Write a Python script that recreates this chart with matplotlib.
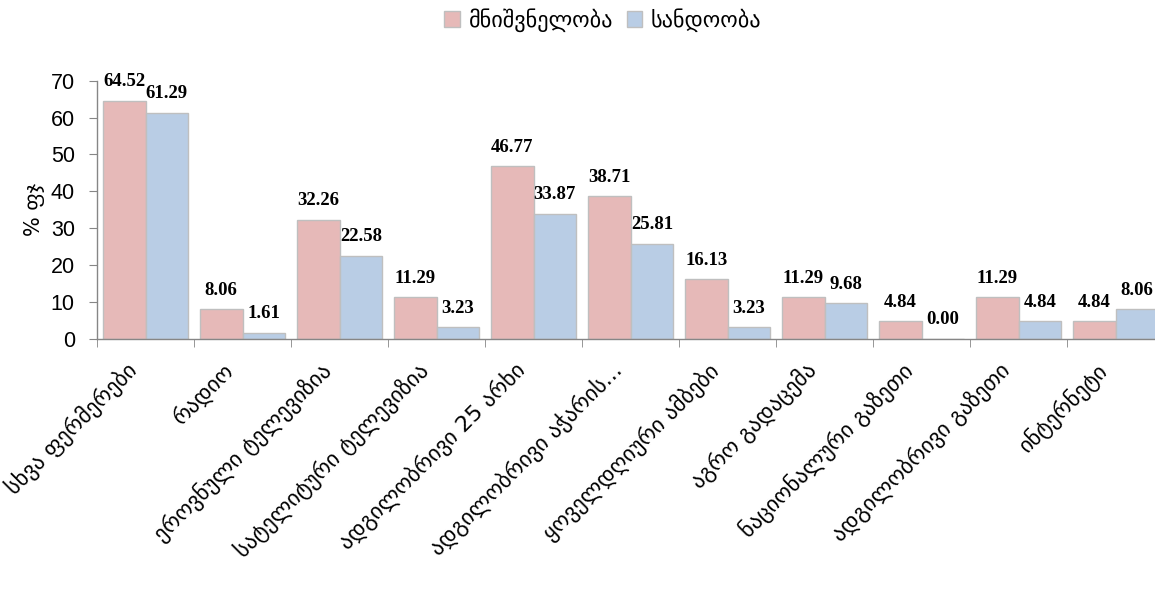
import matplotlib
matplotlib.use("Agg")
import matplotlib.pyplot as plt
import matplotlib.transforms as mtransforms
import numpy as np
from matplotlib.patches import Patch

categories = [
    "სხვა ფერმერები",
    "რადიო",
    "ეროვნული ტელევიზია",
    "სატელიტური ტელევიზია",
    "ადგილობრივი 25 არხი",
    "ადგილობრივი აჭარის...",
    "ყოველდღიური ამბები",
    "აგრო გადაცემა",
    "ნაციონალური გაზეთი",
    "ადგილობრივი გაზეთი",
    "ინტერნეტი",
]
importance = [64.52, 8.06, 32.26, 11.29, 46.77, 38.71, 16.13, 11.29, 4.84, 11.29, 4.84]
reliability = [61.29, 1.61, 22.58, 3.23, 33.87, 25.81, 3.23, 9.68, 0.00, 4.84, 8.06]
series_names = ["მნიშვნელობა", "სანდოობა"]
ylabel = "% ფჯ"
yticks = [0, 10, 20, 30, 40, 50, 60, 70]

col_imp = "#E6B9B8"
col_rel = "#B9CDE5"
edge = "#BFBFBF"
spine_col = "#868686"

fig = plt.figure(figsize=(11.55, 5.93), dpi=100)
ax = fig.add_axes([0.084, 0.4283, 1.0078 - 0.084, 0.864 - 0.4283])

x = np.arange(len(categories))
w = 0.44
b1 = ax.bar(x - w / 2, importance, w, color=col_imp, edgecolor=edge, linewidth=1)
b2 = ax.bar(x + w / 2, reliability, w, color=col_rel, edgecolor=edge, linewidth=1)

lab_font = dict(family="Liberation Serif", weight="bold", size=13.5, color="#000000")
for bars, vals in ((b1, importance), (b2, reliability)):
    for r, v in zip(bars, vals):
        ax.annotate(f"{v:.2f}", (r.get_x() + r.get_width() / 2, r.get_height()),
                    xytext=(0, 10.5), textcoords="offset points",
                    ha="center", va="baseline", **lab_font)

ax.set_xlim(-0.5, len(categories) - 0.5)
ax.set_ylim(0, 70)
ax.set_yticks(yticks)
ax.tick_params(axis="y", direction="out", length=6, color=spine_col,
               labelsize=15.5, pad=10)
for t in ax.get_yticklabels():
    t.set_family("Liberation Sans")

ax.set_xticks(x)
ax.set_xticklabels(categories, rotation=45, ha="right", va="top",
                   rotation_mode="anchor", fontsize=16, family="DejaVu Sans")
ax.tick_params(axis="x", which="major", length=0, pad=12)
offset = mtransforms.ScaledTranslation(-0.2, -0.03, fig.dpi_scale_trans)
for t in ax.get_xticklabels():
    t.set_transform(t.get_transform() + offset)
ax.set_xticks(np.arange(-0.5, len(categories), 1.0), minor=True)
ax.tick_params(axis="x", which="minor", direction="out", length=6, color=spine_col)

for s in ("top", "right"):
    ax.spines[s].set_visible(False)
for s in ("left", "bottom"):
    ax.spines[s].set_color(spine_col)
    ax.spines[s].set_linewidth(1)

ax.set_ylabel(ylabel, fontsize=15, family="DejaVu Sans", labelpad=4)

handles = [Patch(facecolor=col_imp, edgecolor=edge), Patch(facecolor=col_rel, edgecolor=edge)]
fig.legend(handles, series_names, loc="center", bbox_to_anchor=(0.522, 0.966),
           ncol=2, frameon=False, handlelength=0.7, handleheight=0.7,
           handletextpad=0.4, columnspacing=0.6, prop={"family": "DejaVu Sans", "size": 16})

fig.savefig("out.png", dpi=100)
